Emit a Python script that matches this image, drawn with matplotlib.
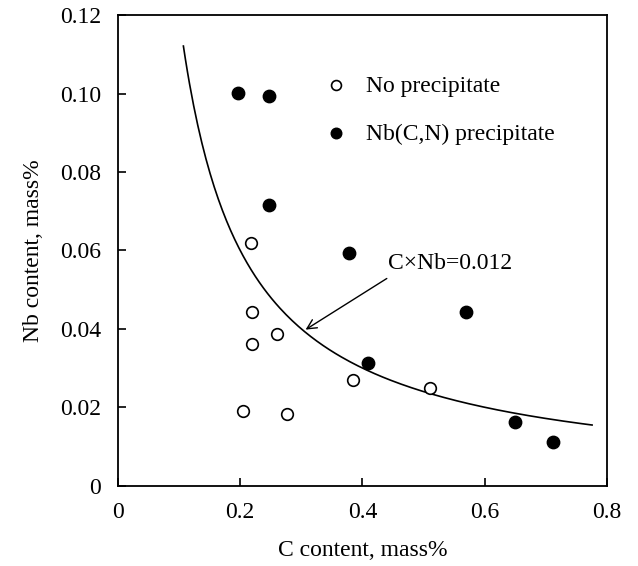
import numpy as np
import matplotlib
matplotlib.use("Agg")
import matplotlib.pyplot as plt

plt.rcParams["font.family"] = ["Liberation Serif", "DejaVu Serif"]

# carbon / niobium contents of the steels
no_ppt_c = [0.218, 0.220, 0.260, 0.220, 0.205, 0.277, 0.385, 0.510]
no_ppt_nb = [0.0620, 0.0442, 0.0387, 0.0362, 0.0191, 0.0182, 0.0270, 0.0248]

ppt_c = [0.196, 0.247, 0.247, 0.378, 0.570, 0.410, 0.650, 0.712]
ppt_nb = [0.1002, 0.0993, 0.0715, 0.0594, 0.0443, 0.0312, 0.0163, 0.0111]

# solubility product line C x Nb = const
product = 0.012
c_line = np.linspace(0.107, 0.776, 200)

fig = plt.figure(figsize=(6.38, 5.66), dpi=100)
ax = fig.add_axes([0.185, 0.142, 0.766, 0.831])

ax.plot(c_line, product / c_line, color="black", lw=1.2)
h_open = ax.scatter(no_ppt_c, no_ppt_nb, s=70, facecolors="white",
                    edgecolors="black", linewidths=1.2, zorder=3)
h_fill = ax.scatter(ppt_c, ppt_nb, s=80, color="black", zorder=3)

leg = ax.legend([h_open, h_fill], ["No precipitate", "Nb(C,N) precipitate"],
                loc="upper left", bbox_to_anchor=(0.397, 0.893), frameon=False,
                fontsize=17, labelspacing=1.12, handletextpad=0.67,
                handlelength=1.2, borderaxespad=0, scatterpoints=1,
                markerscale=0.85)

ax.annotate("C\u00d7Nb=0.012", xy=(0.307, 0.0398), xytext=(0.442, 0.0566),
            fontsize=17, va="center", ha="left",
            arrowprops=dict(arrowstyle="->", color="black", lw=1.0,
                            shrinkA=0, shrinkB=0, relpos=(-0.01, -0.2)))

ax.set_xlim(0, 0.8)
ax.set_ylim(0, 0.12)
ax.set_xticks([0, 0.2, 0.4, 0.6, 0.8])
ax.set_xticklabels(["0", "0.2", "0.4", "0.6", "0.8"])
ax.set_yticks([0, 0.02, 0.04, 0.06, 0.08, 0.10, 0.12])
ax.set_yticklabels(["0", "0.02", "0.04", "0.06", "0.08", "0.10", "0.12"])
ax.tick_params(direction="in", length=6, width=1.2, labelsize=17)
ax.tick_params(axis="x", pad=12)
ax.tick_params(axis="y", pad=12)
for sp in ax.spines.values():
    sp.set_linewidth(1.3)

ax.set_xlabel("C content, mass%", fontsize=17, labelpad=12)
ax.set_ylabel("Nb content, mass%", fontsize=17, labelpad=12)

fig.savefig("out.png", dpi=100)
